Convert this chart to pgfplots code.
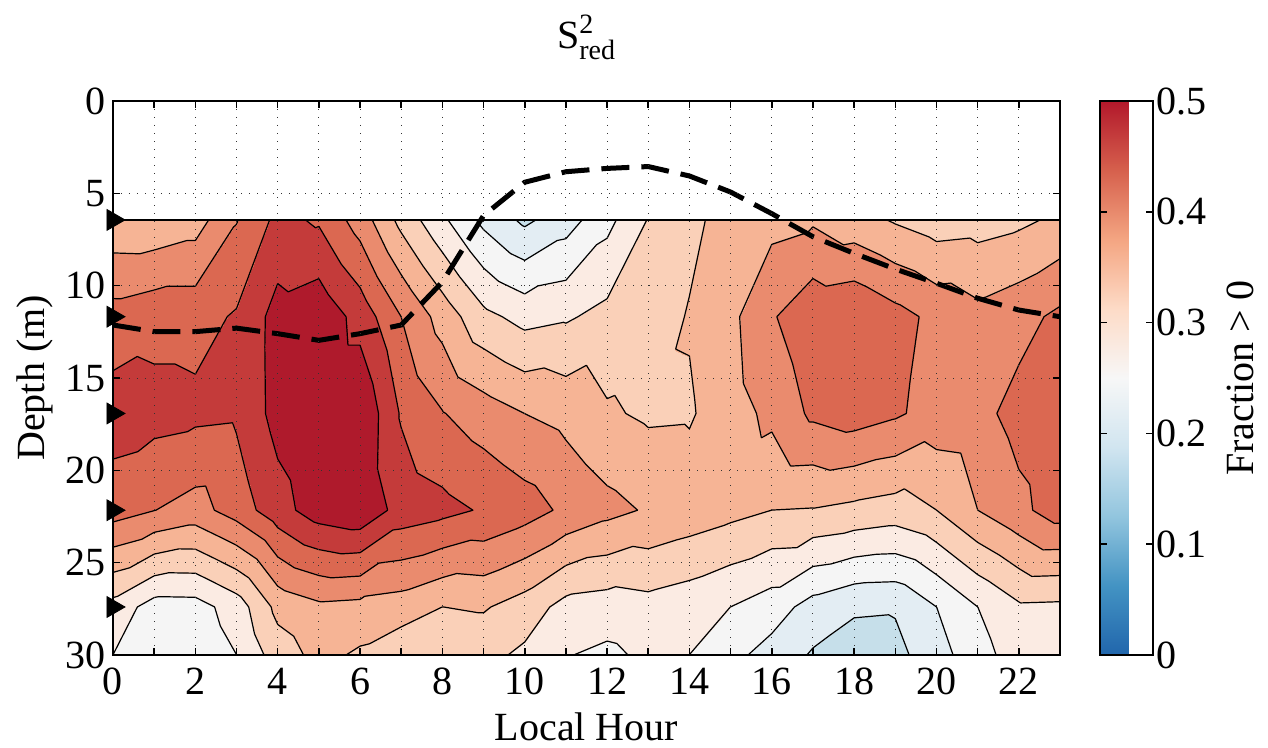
\documentclass[border=0pt]{standalone}
\usepackage{pgfplots}
\usepackage{pgfplotstable}
\pgfplotsset{compat=1.18}
\usepackage{fontspec}
\setmainfont{Liberation Serif}
\usepackage{amsmath}

\pgfplotsset{
 /pgf/number format/assume math mode=true,
 colormap={rdbucont}{rgb255=(33,102,172) rgb255=(67,147,195) rgb255=(146,197,222) rgb255=(209,229,240) rgb255=(247,247,247) rgb255=(253,219,199) rgb255=(244,165,130) rgb255=(214,96,77) rgb255=(178,24,43)},
 colormap={bands}{rgb255=(34,103,173) rgb255=(53,128,187) rgb255=(79,154,200) rgb255=(116,178,214) rgb255=(160,203,226) rgb255=(198,223,234) rgb255=(227,237,243) rgb255=(245,245,245) rgb255=(251,235,227) rgb255=(250,208,184) rgb255=(246,180,149) rgb255=(234,139,110) rgb255=(219,104,81) rgb255=(196,59,58) rgb255=(175,26,44)},
}

% grid values (u = 30 x fraction), hour varies fastest
\pgfplotstableread{
h d u
0 6.44 10.28
1 6.44 10.25
2 6.44 10.55
3 6.44 11.95
4 6.44 13.26
5 6.44 12.88
6 6.44 11.55
7 6.44 9.7
8 6.44 8.2
9 6.44 6.75
10 6.44 5.8
11 6.44 6.55
12 6.44 7.7
13 6.44 9.05
14 6.44 9.72
15 6.44 10.45
16 6.44 10.7
17 6.44 10.87
18 6.44 10.4
19 6.44 9.9
20 6.44 9.5
21 6.44 9.6
22 6.44 9.8
23 6.44 10.19
0 11.68 12.40
1 11.68 12.67
2 11.68 12.67
3 11.68 13.1
4 11.68 14.39
5 11.68 14.73
6 11.68 13.63
7 11.68 12.0
8 11.68 10.6
9 11.68 9.27
10 11.68 8.68
11 11.68 8.88
12 11.68 9.3
13 11.68 9.45
14 11.68 10.08
15 11.68 10.75
16 11.68 11.9
17 11.68 12.74
18 11.68 12.94
19 11.68 12.35
20 11.68 11.75
21 11.68 11.31
22 11.68 11.66
23 11.68 12.22
0 16.92 13.48
1 16.92 13.35
2 16.92 13.23
3 16.92 13.15
4 16.92 14.36
5 16.92 14.9
6 16.92 14.9
7 16.92 12.9
8 16.92 12.05
9 16.92 11.49
10 16.92 11.0
11 16.92 10.7
12 16.92 10.13
13 16.92 9.85
14 16.92 9.89
15 16.92 10.6
16 16.92 11.24
17 16.92 12.2
18 16.92 12.5
19 16.92 12.15
20 16.92 11.6
21 16.92 11.7
22 16.92 12.35
23 16.92 12.7
0 22.16 12.47
1 22.16 12.02
2 22.16 11.62
3 22.16 12.45
4 22.16 13.6
5 22.16 14.52
6 22.16 14.82
7 22.16 13.6
8 22.16 13.3
9 22.16 12.9
10 22.16 12.45
11 22.16 11.8
12 22.16 11.3
13 22.16 10.9
14 22.16 10.6
15 22.16 10.3
16 22.16 10.0
17 22.16 9.95
18 22.16 9.75
19 22.16 9.55
20 22.16 10.0
21 22.16 11.0
22 22.16 11.75
23 22.16 12.5
0 27.4 8.63
1 27.4 7.57
2 27.4 7.6
3 27.4 8.46
4 27.4 10.29
5 27.4 10.79
6 27.4 10.68
7 27.4 10.5
8 27.4 10.0
9 27.4 10.1
10 27.4 9.55
11 27.4 8.65
12 27.4 8.5
13 27.4 8.65
14 27.4 8.4
15 27.4 8.0
16 27.4 7.5
17 27.4 6.6
18 27.4 6.15
19 27.4 6.1
20 27.4 7.0
21 27.4 8.0
22 27.4 8.85
23 27.4 8.8
0 30 8.0
1 30 7.3
2 30 7.3
3 30 8.0
4 30 9.5
5 30 10.3
6 30 9.85
7 30 9.3
8 30 9.3
9 30 9.3
10 30 8.8
11 30 8.05
12 30 7.8
13 30 8.2
14 30 8.0
15 30 7.3
16 30 6.6
17 30 5.9
18 30 5.5
19 30 5.7
20 30 6.6
21 30 7.6
22 30 8.5
23 30 8.5
}\surftable

\pgfplotstableread{
h d
0 12.13
1 12.49
2 12.49
3 12.3
4 12.6
5 12.96
6 12.6
7 12.13
8 9.8
9 6.2
10 4.4
11 3.83
12 3.65
13 3.55
14 4.06
15 4.93
16 6.1
17 7.35
18 8.25
19 9.1
20 9.87
21 10.68
22 11.32
23 11.68
}\mldtable

\newcommand\Dk[1]{\ifcase#1 6.44\or 11.68\or 16.92\or 22.16\or 27.4\or 30\fi}
\newcommand\settri[9]{\edef\xA{#1}\edef\yA{#2}\edef\uA{#3}\edef\xB{#4}\edef\yB{#5}\edef\uB{#6}\edef\xC{#7}\edef\yC{#8}\edef\uC{#9}}
\newcommand\crossp[2]{%
  \pgfmathsetmacro\tpar{(\lev-\csname u#1\endcsname)/(\csname u#2\endcsname-\csname u#1\endcsname)}%
  \pgfmathsetmacro\px{\csname x#1\endcsname+\tpar*(\csname x#2\endcsname-\csname x#1\endcsname)}%
  \pgfmathsetmacro\py{\csname y#1\endcsname+\tpar*(\csname y#2\endcsname-\csname y#1\endcsname)}%
  \edef\seg{\seg(\px,\py)}%
}
\newcommand\contri{%
  \foreach \L in {5,...,14}{%
    \pgfmathsetmacro\lev{\L+0.003}%
    \pgfmathtruncatemacro\fa{\uA<\lev}%
    \pgfmathtruncatemacro\fb{\uB<\lev}%
    \pgfmathtruncatemacro\fc{\uC<\lev}%
    \pgfmathtruncatemacro\ns{\fa+\fb+\fc}%
    \ifnum\ns>0 \ifnum\ns<3
      \def\seg{}%
      \ifnum\fa=\fb\else\crossp{A}{B}\fi
      \ifnum\fb=\fc\else\crossp{B}{C}\fi
      \ifnum\fa=\fc\else\crossp{A}{C}\fi
      \xdef\ccoords{\ccoords\seg(nan,nan)}%
    \fi\fi
  }%
}

\begin{document}
\begin{tikzpicture}[font=\fontsize{20}{24}\selectfont]
\path[use as bounding box] (-56.5pt,-46.5pt) rectangle (577.5pt,327.5pt);
% load values
\foreach \r in {0,...,143}{%
  \pgfplotstablegetelem{\r}{u}\of\surftable
  \expandafter\xdef\csname Uv\r\endcsname{\pgfplotsretval}%
}
% contour segments from the grid (same triangulation as the shading)
\gdef\ccoords{}%
\foreach \kr in {0,...,4}{%
  \foreach \hc in {0,...,22}{%
    \pgfmathtruncatemacro\ra{\kr*24+\hc}%
    \pgfmathtruncatemacro\rb{\ra+1}%
    \pgfmathtruncatemacro\rc{\ra+24}%
    \pgfmathtruncatemacro\rd{\ra+25}%
    \pgfmathtruncatemacro\kn{\kr+1}%
    \pgfmathtruncatemacro\hn{\hc+1}%
    \edef\ya{\Dk{\kr}}\edef\yc{\Dk{\kn}}%
    \settri{\hc}{\ya}{\csname Uv\ra\endcsname}{\hn}{\ya}{\csname Uv\rb\endcsname}{\hc}{\yc}{\csname Uv\rc\endcsname}%
    \contri
    \settri{\hn}{\ya}{\csname Uv\rb\endcsname}{\hc}{\yc}{\csname Uv\rc\endcsname}{\hn}{\yc}{\csname Uv\rd\endcsname}%
    \contri
  }%
}
\begin{axis}[
  at={(0,0)}, anchor=south west,
  width=473.5pt, height=277pt, scale only axis,
  xmin=0, xmax=23, ymin=0, ymax=30, y dir=reverse,
  xtick={0,2,...,22}, minor xtick={1,3,...,23},
  ytick={0,5,...,30},
  tick align=inside, major tick length=3.5pt, minor tick length=3.5pt,
  every tick/.style={black, line width=0.8pt},
  grid=both,
  major grid style={black!80, line width=0.5pt, dash pattern=on 0.5pt off 3.5pt},
  minor grid style={black!80, line width=0.5pt, dash pattern=on 0.5pt off 3.5pt},
  axis on top,
  axis line style={line width=1pt},
  clip=false,
  colormap name=bands, colormap access=piecewise constant,
  point meta min=0, point meta max=0.5,
  xlabel={Local Hour}, ylabel={Depth (m)},
  xlabel style={at={(axis description cs:0.5,-0.13)}, anchor=center},
  ylabel style={at={(axis description cs:-0.0824,0.5)}, anchor=center},
  title={S$^{\text{2}}_{\text{red}}$},
  title style={at={(axis description cs:0.5,1.094)}, anchor=center},
  xticklabel style={yshift=-3pt},
  colorbar,
  colorbar style={
    at={(parent axis.north east)}, anchor=north west, xshift=11.5pt,
    width=26.5pt, scale only axis,
    colormap name=rdbucont, colormap access=map,
    ytick={0,0.1,0.2,0.3,0.4,0.5},
    yticklabels={0,0.1,0.2,0.3,0.4,0.5},
    ytick pos=both, yticklabel pos=right,
    yticklabel style={xshift=-2pt},
    tick align=inside, major tick length=3.5pt,
    every tick/.style={black, line width=0.8pt},
    axis line style={line width=1pt},
  },
]
\addplot[surf, shader=interp, mesh/cols=24, point meta={\thisrow{u}/30}] table[x=h, y=d] {\surftable};
\edef\tmp{\noexpand\addplot[black, line width=0.6pt, unbounded coords=jump, mark=none, forget plot] coordinates {\ccoords};}\tmp
\addplot[black, line width=0.9pt, forget plot] coordinates {(0,6.44) (23,6.44)};
\addplot[black, line width=2.5pt, dash pattern=on 14pt off 6pt, forget plot] table[x=h, y=d] {\mldtable};
\addplot[only marks, mark=triangle*, mark size=6pt, mark options={rotate=-90, fill=black, draw=black}, forget plot] coordinates {(0,6.44) (0,11.68) (0,16.92) (0,22.16) (0,27.4)};
\node[rotate=90, anchor=center] at (rel axis cs:1.19,0.5) {Fraction > 0};
\end{axis}
\end{tikzpicture}
\end{document}
